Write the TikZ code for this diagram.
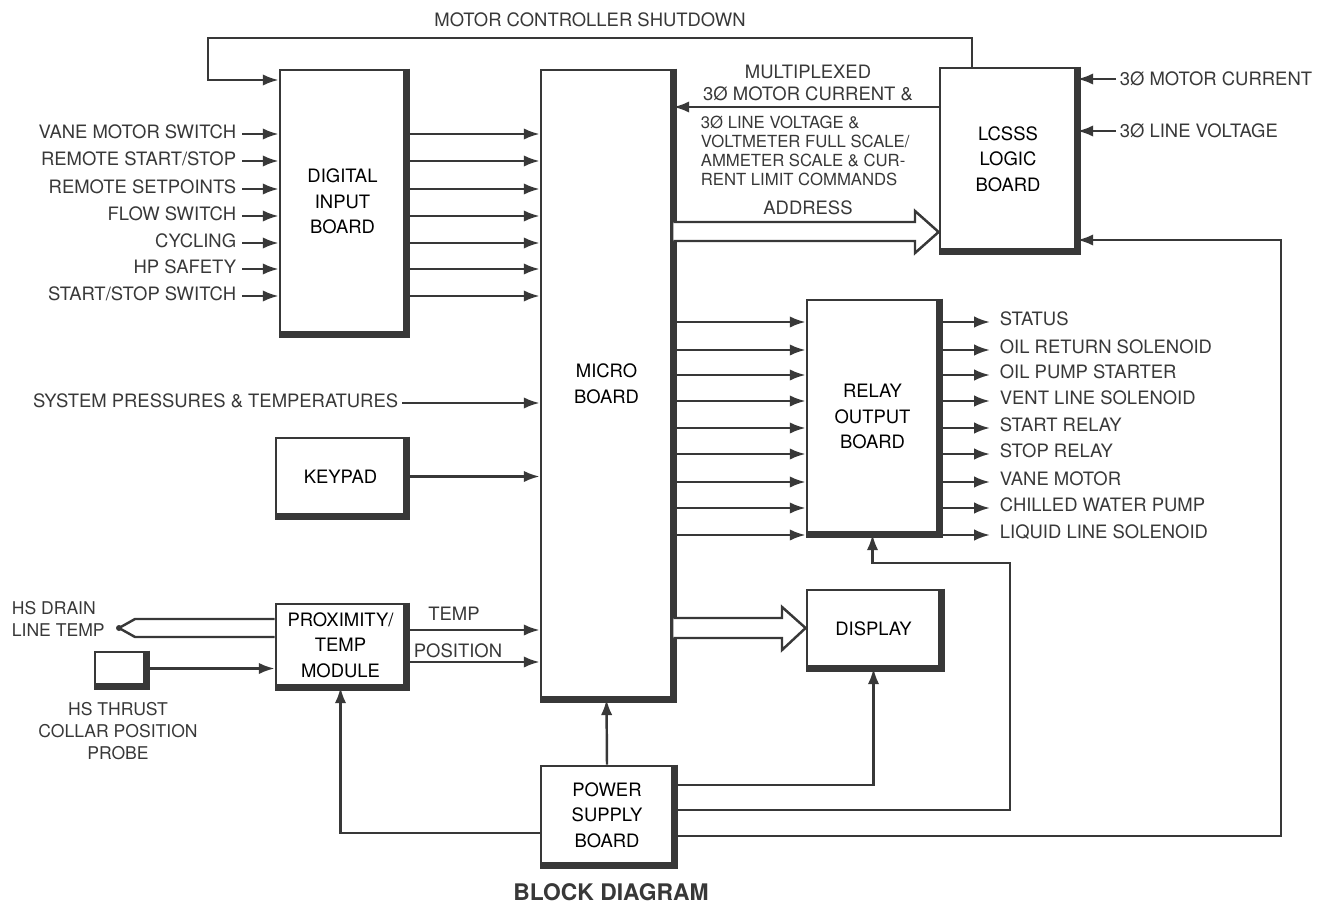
\documentclass[tikz,border=0pt]{standalone}
\usepackage{fontspec}
\setmainfont{TeX Gyre Heros}
\usetikzlibrary{arrows.meta,positioning}
\definecolor{ink}{gray}{0.22}
\tikzset{
	board/.style={draw=ink,line width=1.6pt,fill=white,align=center,inner sep=0pt,font=\fontsize{10.5}{14.5}\selectfont},
	lbl/.style={text=ink,font=\fontsize{10.5}{13}\selectfont,inner sep=2pt},
	conn/.style={draw=ink,line width=1.4pt,line join=miter},
	sig/.style={conn,-{Latex[length=9pt,width=6.5pt]}},
}
\begin{document}
\begin{tikzpicture}[x=0.02cm,y=-0.02cm]
	\useasboundingbox (0,0) rectangle (1323,906);
	% boards
	\node[board,minimum width=2.5cm,minimum height=5.26cm] (dib) at (342.5,201.5) {DIGITAL\\INPUT\\BOARD};
	\node[board,minimum width=2.62cm,minimum height=12.56cm] (micro) at (606.5,384) {MICRO\\BOARD};
	\node[board,minimum width=2.72cm,minimum height=3.64cm] (lcsss) at (1008,159) {LCSSS\\LOGIC\\BOARD};
	\node[board,minimum width=2.62cm,minimum height=4.66cm] (relay) at (872.5,416.5) {RELAY\\OUTPUT\\BOARD};
	\node[board,minimum width=2.58cm,minimum height=1.54cm] (keypad) at (340.5,476.5) {KEYPAD};
	\node[board,minimum width=2.58cm,minimum height=1.64cm] (prox) at (340.5,645) {PROXIMITY/\\TEMP\\MODULE};
	\node[board,minimum width=2.66cm,minimum height=1.54cm] (disp) at (873.5,628.5) {DISPLAY};
	\node[board,minimum width=2.64cm,minimum height=1.96cm] (power) at (607,815) {POWER\\SUPPLY\\BOARD};
	\node[board,minimum width=1cm,minimum height=0.66cm] (probe) at (120,668.5) {};
	\foreach \b in {dib,micro,lcsss,relay,keypad,prox,disp,power,probe}
		\draw[ink,line width=3.6pt] (\b.north east) -- (\b.south east) -- (\b.south west);

	% digital inputs
	\foreach \y/\t [count=\i] in {134/{VANE MOTOR SWITCH},161/{REMOTE START/STOP},189/{REMOTE SETPOINTS},216/{FLOW SWITCH},243/{CYCLING},269/{HP SAFETY},296/{START/STOP SWITCH}} {
		\node[lbl,anchor=east] (in\i) at (240,\y-2) {\t};
		\draw[sig] (242,\y) -- (dib.west |- 0,\y);
		\draw[sig] (dib.east |- 0,\y) -- (micro.west |- 0,\y);
	}

	% motor controller shutdown
	\node[lbl] (mcs) at (590,20) {MOTOR CONTROLLER SHUTDOWN};
	\draw[sig] (lcsss.north -| 972,0) -- (972,38) -- (208,38) |- (dib.west |- 0,80);

	% lcsss
	\node[lbl,anchor=west] (mcur) at (1116,79) {3Ø MOTOR CURRENT};
	\node[lbl,anchor=west] (lvolt) at (1116,131) {3Ø LINE VOLTAGE};
	\draw[sig] (mcur.west) -- (lcsss.east |- mcur.west);
	\draw[sig] (lvolt.west) -- (lcsss.east |- lvolt.west);
	\draw[sig] (lcsss.west |- 0,107) -- (micro.east |- 0,107);
	\node[lbl,align=center,font=\fontsize{10.5}{12.5}\selectfont] (mux) at (808,83) {MULTIPLEXED\\3Ø MOTOR CURRENT \&};
	\node[lbl,align=left,anchor=north west,font=\fontsize{9.5}{10.8}\selectfont] (cmds) at (697,112) {3Ø LINE VOLTAGE \&\\VOLTMETER FULL SCALE/\\AMMETER SCALE \& CUR-\\RENT LIMIT COMMANDS};
	\node[lbl] (addr) at (808,208) {ADDRESS};
	\draw[conn,fill=white] (micro.east |- 0,222) -- (915,222) -- (915,211) -- (lcsss.west |- 0,232) -- (915,253) -- (915,241) -- (micro.east |- 0,241);

	% relay outputs
	\foreach \y/\t [count=\i] in {322/{STATUS},350/{OIL RETURN SOLENOID},375/{OIL PUMP STARTER},401/{VENT LINE SOLENOID},428/{START RELAY},454/{STOP RELAY},482/{VANE MOTOR},508/{CHILLED WATER PUMP},535/{LIQUID LINE SOLENOID}} {
		\draw[sig] (micro.east |- 0,\y) -- (relay.west |- 0,\y);
		\node[lbl,anchor=west] (out\i) at (996,\y-3) {\t};
		\draw[sig] (relay.east |- 0,\y) -- (990,\y);
	}

	% system, keypad
	\node[lbl,anchor=east] (sys) at (402,401) {SYSTEM PRESSURES \& TEMPERATURES};
	\draw[sig] (sys.east |- 0,403) -- (micro.west |- 0,403);
	\draw[sig] (keypad) -- (micro.west |- keypad);

	% proximity / temp
	\node[lbl,align=left,anchor=west,font=\fontsize{10}{12.5}\selectfont] (drain) at (8,619) {HS DRAIN\\LINE TEMP};
	\coordinate (tc) at (119,628);
	\fill[ink] (tc) circle (3);
	\draw[conn] (tc) -- (135,619) -- (prox.west |- 0,619);
	\draw[conn] (tc) -- (135,637) -- (prox.west |- 0,637);
	\draw[sig] (probe) -- (prox.west |- probe);
	\node[lbl,align=center,font=\fontsize{10}{12.5}\selectfont] (thrust) at (118,731) {HS THRUST\\COLLAR POSITION\\PROBE};
	\node[lbl] (temp) at (454,614) {TEMP};
	\node[lbl] (pos) at (458,651) {POSITION};
	\draw[sig] (prox.east |- 0,630) -- (micro.west |- 0,630);
	\draw[sig] (prox.east |- 0,662) -- (micro.west |- 0,662);

	% display
	\draw[conn,fill=white] (micro.east |- 0,618) -- (782,618) -- (782,607) -- (disp.west |- 0,628) -- (782,650) -- (782,638) -- (micro.east |- 0,638);

	% power supply
	\draw[sig] (power.north) -- (micro.south);
	\draw[sig] (power.east |- 0,785) -| (disp.south);
	\draw[sig] (power.east |- 0,810) -| (1010,563) -| (relay.south);
	\draw[sig] (power.east |- 0,836) -| (1281,240) -- (lcsss.east |- 0,240);
	\draw[sig] (power.west |- 0,833) -| (prox.south);

	\node[font=\fontsize{13}{15}\selectfont\bfseries,text=ink] (title) at (611,892) {BLOCK DIAGRAM};
\end{tikzpicture}
\end{document}
